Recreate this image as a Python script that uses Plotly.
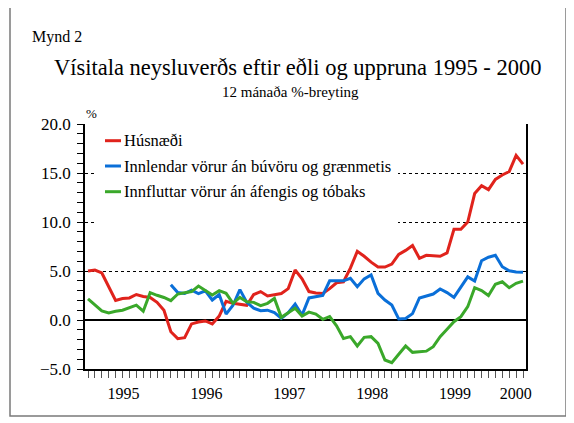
import plotly.graph_objects as go

# ---- data (monthly, Jan 1995 - Apr 2000), 12-month % change ----
months = list(range(64))  # 0 = Jan 1995
year_labels = ["1995", "1996", "1997", "1998", "1999", "2000"]
year_label_pos = [5.15, 17.15, 29.15, 41.15, 53.15, 61.95]

husnaedi = [5.0, 5.1, 4.8, 3.4, 2.0, 2.2, 2.25, 2.6, 2.4, 2.3, 1.8, 1.0,
            -1.2, -1.9, -1.8, -0.4, -0.2, -0.1, -0.4, 0.4, 1.9, 1.7, 1.6, 1.5,
            2.6, 2.9, 2.45, 2.6, 2.7, 3.2, 5.1, 4.2, 2.9, 2.75, 2.7, 3.2,
            3.8, 3.9, 5.3, 7.0, 6.5, 5.9, 5.4, 5.4, 5.7, 6.7, 7.1, 7.6,
            6.3, 6.6, 6.55, 6.5, 6.85, 9.25, 9.25, 10.0, 12.9, 13.7, 13.3, 14.35,
            14.8, 15.15, 16.8, 15.9]

innlendar = [None] * 12 + [
            3.6, 2.8, 2.7, 3.05, 2.7, 2.97, 2.04, 2.6, 0.6, 1.5, 3.1, 1.8,
            1.2, 0.95, 1.0, 0.75, 0.17, 0.75, 1.63, 0.5, 2.25, 2.4, 2.5, 4.0,
            4.0, 4.0, 4.25, 3.4, 4.2, 4.6, 2.72, 2.04, 1.53, 0.1, 0.15, 0.65,
            2.25, 2.45, 2.65, 3.16, 2.8, 2.3, 3.4, 4.4, 3.97, 6.05, 6.4, 6.6,
            5.44, 5.03, 4.9, 4.86]

innfluttar = [2.15, 1.55, 0.92, 0.72, 0.9, 1.0, 1.29, 1.52, 0.9, 2.79, 2.52, 2.3,
              1.97, 2.65, 2.79, 2.9, 3.47, 2.99, 2.55, 2.99, 2.72, 1.7, 2.3, 1.87,
              1.8, 1.46, 1.7, 2.2, 0.27, 0.75, 1.2, 0.4, 0.8, 0.6, 0.07, 0.34,
              -0.6, -1.88, -1.7, -2.65, -1.77, -1.7, -2.38, -4.08, -4.35, -3.5, -2.65, -3.3,
              -3.23, -3.18, -2.72, -1.7, -0.95, -0.17, 0.34, 1.36, 3.3, 3.0, 2.5, 3.64,
              3.9, 3.3, 3.74, 3.97]

series_names = ["Húsnæði",
                "Innlendar vörur án búvöru og grænmetis",
                "Innfluttar vörur án áfengis og tóbaks"]
series_values = [husnaedi, innlendar, innfluttar]
series_colors = ["#e0231c", "#0a6fd8", "#3aa82a"]

y_ticks = [-5, 0, 5, 10, 15, 20]

# ---- geometry (window pixels; page body has an 8px margin) ----
W, H = 574, 423
OFF = 8
L, R, T, B = 85, 526, 124, 369
FW, FH = W - OFF, H - OFF


def px(x):
    return (x - L) / (R - L)


def py(y):
    return (B - y) / (B - T)


FONT = "Liberation Serif"

fig = go.Figure()
for name, vals, col in zip(series_names, series_values, series_colors):
    fig.add_trace(go.Scatter(x=months, y=vals, mode="lines", name=name,
                             line=dict(color=col, width=3), showlegend=False,
                             connectgaps=False))

shapes = [
    # white legend background hiding gridlines
    dict(type="rect", xref="paper", yref="paper", layer="above",
         x0=px(96), x1=px(398), y0=py(230), y1=py(127),
         fillcolor="white", line=dict(width=0)),
    # outer frame
    dict(type="rect", xref="paper", yref="paper", layer="above",
         x0=px(10), x1=px(566), y0=py(416), y1=py(7),
         line=dict(color="#7a7a7a", width=1.5)),
]
annotations = []
leg_y = [140.7, 166, 191.7]
for name, col, yy in zip(series_names, series_colors, leg_y):
    shapes.append(dict(type="line", xref="paper", yref="paper", layer="above",
                       x0=px(105), x1=px(121), y0=py(yy), y1=py(yy),
                       line=dict(color=col, width=3)))
    annotations.append(dict(text=name, xref="paper", yref="paper",
                            x=px(121.5), y=py(yy), xanchor="left", yanchor="middle",
                            showarrow=False, font=dict(family=FONT, size=16.5, color="black")))

annotations += [
    dict(text="Mynd 2", xref="paper", yref="paper", x=px(30), y=py(37),
         xanchor="left", yanchor="middle", showarrow=False,
         font=dict(family=FONT, size=16, color="black")),
    dict(text="Vísitala neysluverðs eftir eðli og uppruna 1995 - 2000",
         xref="paper", yref="paper", x=px(297), y=py(67),
         xanchor="center", yanchor="middle", showarrow=False,
         font=dict(family=FONT, size=22.5, color="black")),
    dict(text="12 mánaða %-breyting", xref="paper", yref="paper",
         x=px(290), y=py(92), xanchor="center", yanchor="middle", showarrow=False,
         font=dict(family=FONT, size=15, color="black")),
    dict(text="%", xref="paper", yref="paper", x=px(91), y=py(114),
         xanchor="center", yanchor="middle", showarrow=False,
         font=dict(family=FONT, size=13, color="black")),
]

fig.update_layout(
    width=FW, height=FH,
    margin=dict(l=L - OFF, r=FW - (R - OFF), t=T - OFF, b=FH - (B - OFF), pad=0),
    paper_bgcolor="white", plot_bgcolor="white",
    shapes=shapes, annotations=annotations,
    showlegend=False,
    font=dict(family=FONT, color="black"),
    xaxis=dict(
        range=[-0.434, 63.434], showgrid=False, zeroline=False,
        showline=True, linecolor="black", linewidth=1.5,
        tickmode="array", tickvals=year_label_pos, ticktext=year_labels,
        ticks="outside", ticklen=9, tickcolor="rgba(0,0,0,0)",
        tickfont=dict(family=FONT, size=16, color="black"),
        minor=dict(tickmode="array", tickvals=months, ticks="outside",
                   ticklen=7, tickcolor="#555555", tickwidth=1, showgrid=False),
        fixedrange=True,
    ),
    yaxis=dict(
        range=[-5, 20], tickmode="array", tickvals=y_ticks, tickformat=".1f",
        showgrid=True, gridcolor="black", griddash="dot", gridwidth=1,
        zeroline=True, zerolinecolor="black", zerolinewidth=1.5,
        showline=True, linecolor="black", linewidth=1.5, mirror=True,
        ticks="outside", ticklen=6, tickcolor="black", tickwidth=1,
        ticklabelstandoff=3,
        minor=dict(dtick=1, tick0=0, ticks="outside", ticklen=6,
                   tickcolor="black", tickwidth=1, showgrid=False),
        tickfont=dict(family=FONT, size=17, color="black"),
        fixedrange=True,
    ),
)

fig.write_html("out.html")
